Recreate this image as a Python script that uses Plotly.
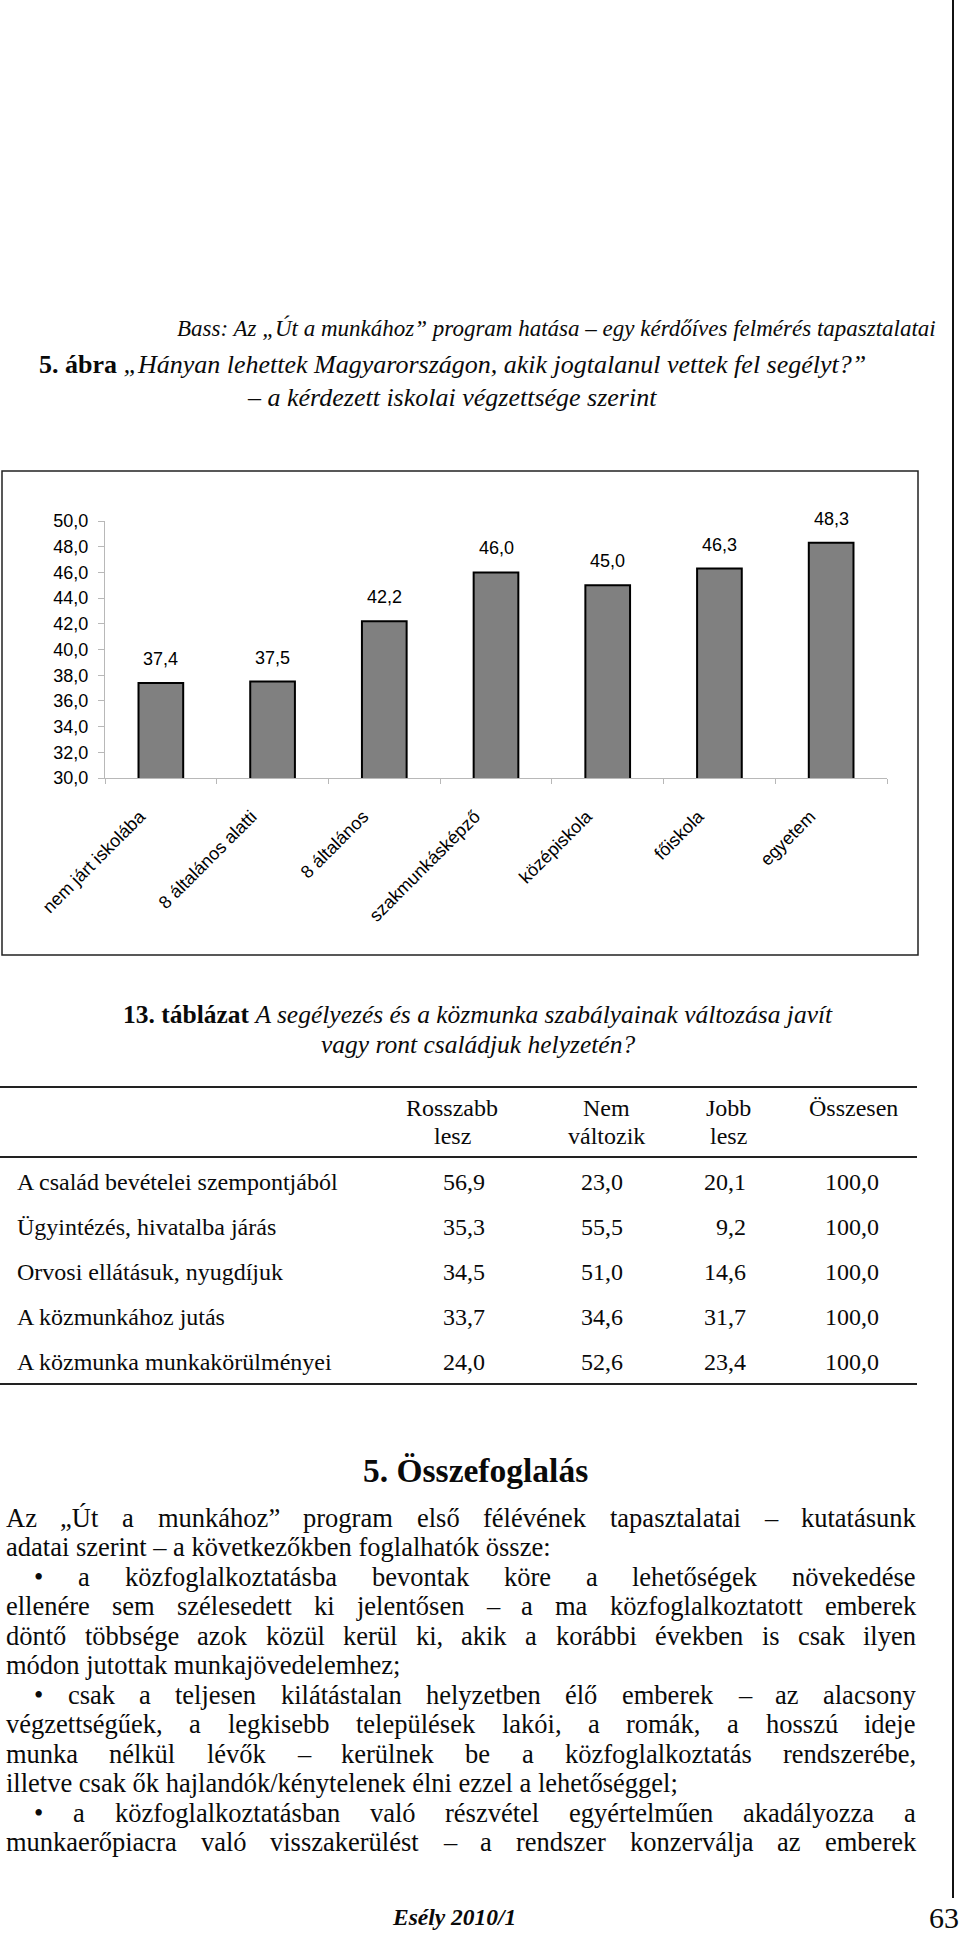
import plotly.graph_objects as go

# ---------------- data ----------------
running_head = "Bass: Az „Út a munkához” program hatása – egy kérdőíves felmérés tapasztalatai"
figure_label = "5. ábra"
figure_title_1 = "„Hányan lehettek Magyarországon, akik jogtalanul vettek fel segélyt?”"
figure_title_2 = "– a kérdezett iskolai végzettsége szerint"

categories = ["nem járt iskolába", "8 általános alatti", "8 általános",
              "szakmunkásképző", "középiskola", "főiskola", "egyetem"]
values = [37.4, 37.5, 42.2, 46.0, 45.0, 46.3, 48.3]
y_min, y_max, y_step = 30, 50, 2

table_label = "13. táblázat"
table_title_1 = "A segélyezés és a közmunka szabályainak változása javít"
table_title_2 = "vagy ront családjuk helyzetén?"
table_headers_1 = ["Rosszabb", "Nem", "Jobb", "Összesen"]
table_headers_2 = ["lesz", "változik", "lesz", ""]
table_rows = ["A család bevételei szempontjából",
              "Ügyintézés, hivatalba járás",
              "Orvosi ellátásuk, nyugdíjuk",
              "A közmunkához jutás",
              "A közmunka munkakörülményei"]
col_rosszabb = [56.9, 35.3, 34.5, 33.7, 24.0]
col_nem_valtozik = [23.0, 55.5, 51.0, 34.6, 52.6]
col_jobb = [20.1, 9.2, 14.6, 31.7, 23.4]
col_osszesen = [100.0, 100.0, 100.0, 100.0, 100.0]

section_title = "5. Összefoglalás"
summary_lines = [
    "Az „Út a munkához” program első félévének tapasztalatai – kutatásunk",
    "adatai szerint – a következőkben foglalhatók össze:",
    "• a közfoglalkoztatásba bevontak köre a lehetőségek növekedése",
    "ellenére sem szélesedett ki jelentősen – a ma közfoglalkoztatott emberek",
    "döntő többsége azok közül kerül ki, akik a korábbi években is csak ilyen",
    "módon jutottak munkajövedelemhez;",
    "• csak a teljesen kilátástalan helyzetben élő emberek – az alacsony",
    "végzettségűek, a legkisebb települések lakói, a romák, a hosszú ideje",
    "munka nélkül lévők – kerülnek be a közfoglalkoztatás rendszerébe,",
    "illetve csak ők hajlandók/kénytelenek élni ezzel a lehetőséggel;",
    "• a közfoglalkoztatásban való részvétel egyértelműen akadályozza a",
    "munkaerőpiacra való visszakerülést – a rendszer konzerválja az emberek",
]
footer_left = "Esély 2010/1"
page_number = "63"

# ---------------- layout helpers ----------------
W, H = 960, 1935
SERIF = "Liberation Serif, Times New Roman, serif"
SANS = "Liberation Sans, Arial, sans-serif"

def px(x):
    return x / W

def py(y):
    return 1 - y / H

def fmt(v):
    return f"{v:.1f}".replace(".", ",")

# Times / Liberation Serif advance widths (1/1000 em)
TW = {' ': 250, 'a': 444, 'b': 500, 'c': 444, 'd': 500, 'e': 444, 'f': 333, 'g': 500,
      'h': 500, 'i': 278, 'j': 278, 'k': 500, 'l': 278, 'm': 778, 'n': 500, 'o': 500,
      'p': 500, 'q': 500, 'r': 333, 's': 389, 't': 278, 'u': 500, 'v': 500, 'w': 722,
      'x': 500, 'y': 500, 'z': 444, 'á': 444, 'é': 444, 'í': 278, 'ó': 500, 'ö': 500,
      'ő': 500, 'ú': 500, 'ü': 500, 'ű': 500, 'A': 722, 'Ú': 722, ',': 250, '.': 250,
      ':': 278, ';': 278, '/': 278, '–': 500, '„': 444, '”': 444, '•': 350}

def tw(s, size):
    return sum(TW.get(c, 500) for c in s) * size / 1000.0

annotations = []

def txt(x, y, text, size, family=SERIF, xanchor="left", yanchor="middle",
        color="#0a0a0a", align="left"):
    annotations.append(dict(
        x=px(x), y=py(y), xref="paper", yref="paper", text=text, showarrow=False,
        xanchor=xanchor, yanchor=yanchor, align=align, borderpad=0, borderwidth=0,
        font=dict(family=family, size=size, color=color)))

# ---------------- figure ----------------
fig = go.Figure()
fig.add_trace(go.Bar(
    x=categories, y=values, width=0.4,
    marker=dict(color="#808080", line=dict(color="#000000", width=2)),
    hoverinfo="skip", showlegend=False))

# data labels above bars
for c, v in zip(categories, values):
    annotations.append(dict(x=c, y=v, xref="x", yref="y", text=fmt(v), showarrow=False,
                            yshift=24, xanchor="center", yanchor="middle",
                            font=dict(family=SANS, size=18, color="#000000")))

# headings
txt(936, 328, f"<i>{running_head}</i>", 23, xanchor="right")
txt(452, 365, f"<b>{figure_label}</b> <i>{figure_title_1}</i>", 26, xanchor="center")
txt(452, 397, f"<i>{figure_title_2}</i>", 26, xanchor="center")

# table
txt(478, 1014, f"<b>{table_label}</b> <i>{table_title_1}</i>", 25.5, xanchor="center")
txt(478, 1044, f"<i>{table_title_2}</i>", 25.5, xanchor="center")
header_x = [452, 606, 728, 853]
for hx, h1, h2 in zip(header_x, table_headers_1, table_headers_2):
    txt(hx, 1108, h1, 24, xanchor="center")
    if h2:
        txt(hx, 1136, h2, 24, xanchor="center")
row_y = [1182, 1227, 1272, 1317, 1362]
col_right = [485, 623, 746, 879]
cols = [col_rosszabb, col_nem_valtozik, col_jobb, col_osszesen]
for i, (ry, lab) in enumerate(zip(row_y, table_rows)):
    txt(17, ry, lab, 24)
    for cx, col in zip(col_right, cols):
        txt(cx, ry, fmt(col[i]), 24, xanchor="right")

# summary
txt(475, 1470, f"<b>{section_title}</b>", 33.5, xanchor="center")
BODY = 26.5
line_y0, line_dy = 1518, 29.45
justified = [True, False, True, True, True, False, True, True, True, False, True, True]
x_left, x_right, indent = 6, 916, 28
for k, line in enumerate(summary_lines):
    y = line_y0 + k * line_dy
    x0 = x_left + (indent if line.startswith("•") else 0)
    if justified[k]:
        words = line.split(" ")
        widths = [tw(w, BODY) for w in words]
        gap = (x_right - x0 - sum(widths)) / (len(words) - 1)
        x = x0
        for w, wd in zip(words, widths):
            txt(x, y, w, BODY)
            x += wd + gap
    else:
        txt(x0, y, line, BODY)

# footer
txt(454, 1917, f"<b><i>{footer_left}</i></b>", 23.5, xanchor="center")
txt(959, 1917, page_number, 30, xanchor="right")

shapes = [
    dict(type="rect", xref="paper", yref="paper", x0=px(2), x1=px(918), y0=py(471), y1=py(955),
         line=dict(color="#222222", width=1.5)),
    dict(type="line", xref="paper", yref="paper", x0=px(953), x1=px(953), y0=py(0), y1=py(1898),
         line=dict(color="#111111", width=2)),
    dict(type="line", xref="paper", yref="paper", x0=px(0), x1=px(917), y0=py(1087), y1=py(1087),
         line=dict(color="#222222", width=2)),
    dict(type="line", xref="paper", yref="paper", x0=px(0), x1=px(917), y0=py(1157), y1=py(1157),
         line=dict(color="#222222", width=2)),
    dict(type="line", xref="paper", yref="paper", x0=px(0), x1=px(917), y0=py(1384), y1=py(1384),
         line=dict(color="#222222", width=2)),
]

fig.update_layout(
    width=W, height=H, autosize=False,
    margin=dict(l=0, r=0, t=0, b=0, pad=0, autoexpand=False),
    paper_bgcolor="white", plot_bgcolor="white",
    separators=", ",
    showlegend=False,
    annotations=annotations,
    shapes=shapes,
    xaxis=dict(domain=[px(105), px(887)], type="category", range=[-0.5, 6.5],
               automargin=False,
               showline=True, linecolor="#b8b8b8", linewidth=1,
               ticks="outside", tickson="boundaries", ticklen=5, tickcolor="#b8b8b8",
               tickangle=-45, tickfont=dict(family=SANS, size=18, color="#000000"),
               ticklabelstandoff=20, ticklabelshift=-21,
               showgrid=False, zeroline=False, fixedrange=True),
    yaxis=dict(domain=[py(778), py(521)], range=[y_min, y_max], dtick=y_step, tick0=y_min,
               automargin=False,
               tickformat=".1f", showline=True, linecolor="#b8b8b8", linewidth=1,
               ticks="outside", ticklen=6, tickcolor="#b8b8b8",
               tickfont=dict(family=SANS, size=18, color="#000000"),
               ticklabelstandoff=6, showgrid=False, zeroline=False, fixedrange=True),
)

fig.write_html(
    "out.html",
    config={"displayModeBar": False, "staticPlot": True},
    post_script="document.body.style.margin='0';document.body.style.overflow='hidden';",
)
